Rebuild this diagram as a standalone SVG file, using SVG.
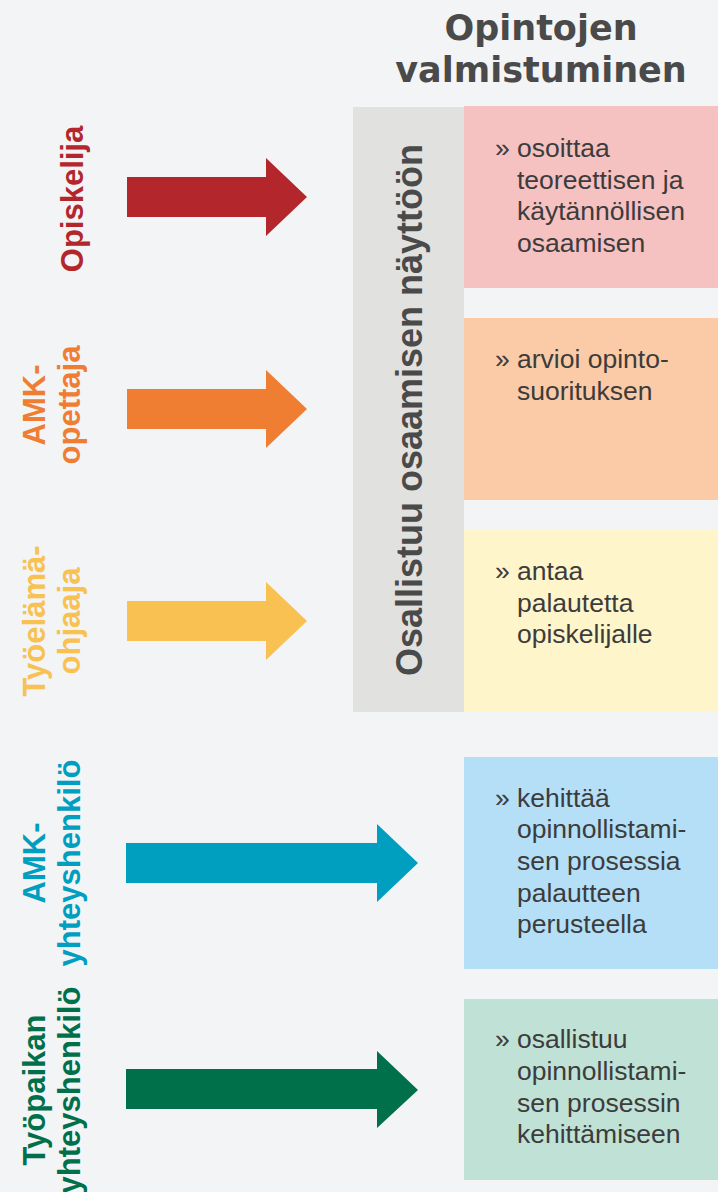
<svg xmlns="http://www.w3.org/2000/svg" width="718" height="1192" viewBox="0 0 718 1192">
<style>
.title{font-family:"DejaVu Sans",Verdana,sans-serif;font-weight:bold;font-size:35px;fill:#4a4a4a;text-anchor:middle}
.lbl{font-family:"Liberation Sans",Arial,sans-serif;font-weight:bold;font-size:31px;text-anchor:middle}
.vert{font-family:"Liberation Sans",Arial,sans-serif;font-weight:bold;font-size:36px;fill:#4a4a4a;text-anchor:middle}
.body{font-family:"Liberation Sans",Arial,sans-serif;font-size:26.5px;fill:#3c3c3c}
</style>
<rect x="0" y="0" width="718" height="1192" fill="#f3f4f6"/>
<g id="title">
<text class="title" x="541" y="40">Opintojen</text>
<text class="title" x="541" y="82">valmistuminen</text>
</g>
<g id="labels">
<g id="lbl-opiskelija" transform="translate(82.5,199) rotate(-90)"><text class="lbl" fill="#b3272c" x="0" y="0">Opiskelija</text></g>
<g id="lbl-opettaja" transform="translate(45,405) rotate(-90)"><text class="lbl" fill="#ef7d32" x="0" y="0">AMK-</text><text class="lbl" fill="#ef7d32" x="0" y="35">opettaja</text></g>
<g id="lbl-ohjaaja" transform="translate(45,621) rotate(-90)"><text class="lbl" fill="#f8c151" x="0" y="0">Työelämä-</text><text class="lbl" fill="#f8c151" x="0" y="35">ohjaaja</text></g>
<g id="lbl-amk-yht" transform="translate(45,863) rotate(-90)"><text class="lbl" fill="#009ebf" x="0" y="0">AMK-</text><text class="lbl" fill="#009ebf" x="0" y="35">yhteyshenkilö</text></g>
<g id="lbl-tyo-yht" transform="translate(45,1090) rotate(-90)"><text class="lbl" fill="#00704a" x="0" y="0">Työpaikan</text><text class="lbl" fill="#00704a" x="0" y="35">yhteyshenkilö</text></g>
</g>
<g id="connectors">
<polygon fill="#b3272c" points="127,177 266,177 266,158 307,197 266,236 266,217 127,217"/>
<polygon fill="#ef7d32" points="127,389 266,389 266,370 307,409 266,448 266,429 127,429"/>
<polygon fill="#f8c151" points="127,601 266,601 266,582 307,621 266,660 266,641 127,641"/>
<polygon fill="#009ebf" points="126,843 377,843 377,824 418,863 377,902 377,883 126,883"/>
<polygon fill="#00704a" points="126,1069 377,1069 377,1051 418,1090 377,1128 377,1109 126,1109"/>
</g>
<g id="gray-bar">
<rect x="353" y="107" width="111" height="605" fill="#e1e1df"/>
<g transform="translate(421.5,410) rotate(-90)"><text class="vert" x="0" y="0">Osallistuu osaamisen näyttöön</text></g>
</g>
<g id="box-opiskelija">
<rect x="464" y="106" width="254" height="182" fill="#f6c1c1"/>
<text class="body" x="495" y="157">»</text>
<text class="body" x="517" y="157">osoittaa</text>
<text class="body" x="517" y="188.5">teoreettisen ja</text>
<text class="body" x="517" y="220">käytännöllisen</text>
<text class="body" x="517" y="251.7">osaamisen</text>
</g>
<g id="box-opettaja">
<rect x="464" y="318" width="254" height="182" fill="#facba6"/>
<text class="body" x="495" y="368.3">»</text>
<text class="body" x="517" y="368.3">arvioi opinto-</text>
<text class="body" x="517" y="400">suorituksen</text>
</g>
<g id="box-ohjaaja">
<rect x="464" y="529.5" width="254" height="182.5" fill="#fff5cb"/>
<text class="body" x="495" y="580">»</text>
<text class="body" x="517" y="580">antaa</text>
<text class="body" x="517" y="611.7">palautetta</text>
<text class="body" x="517" y="643.3">opiskelijalle</text>
</g>
<g id="box-amk-yht">
<rect x="464" y="757" width="254" height="212" fill="#b4dff6"/>
<text class="body" x="495" y="806.7">»</text>
<text class="body" x="517" y="806.7">kehittää</text>
<text class="body" x="517" y="838.3">opinnollistami-</text>
<text class="body" x="517" y="870">sen prosessia</text>
<text class="body" x="517" y="901.7">palautteen</text>
<text class="body" x="517" y="933.3">perusteella</text>
</g>
<g id="box-tyo-yht">
<rect x="464" y="999" width="254" height="181" fill="#c0e1d5"/>
<text class="body" x="495" y="1048.3">»</text>
<text class="body" x="517" y="1048.3">osallistuu</text>
<text class="body" x="517" y="1080">opinnollistami-</text>
<text class="body" x="517" y="1111.7">sen prosessin</text>
<text class="body" x="517" y="1143.3">kehittämiseen</text>
</g>
</svg>
